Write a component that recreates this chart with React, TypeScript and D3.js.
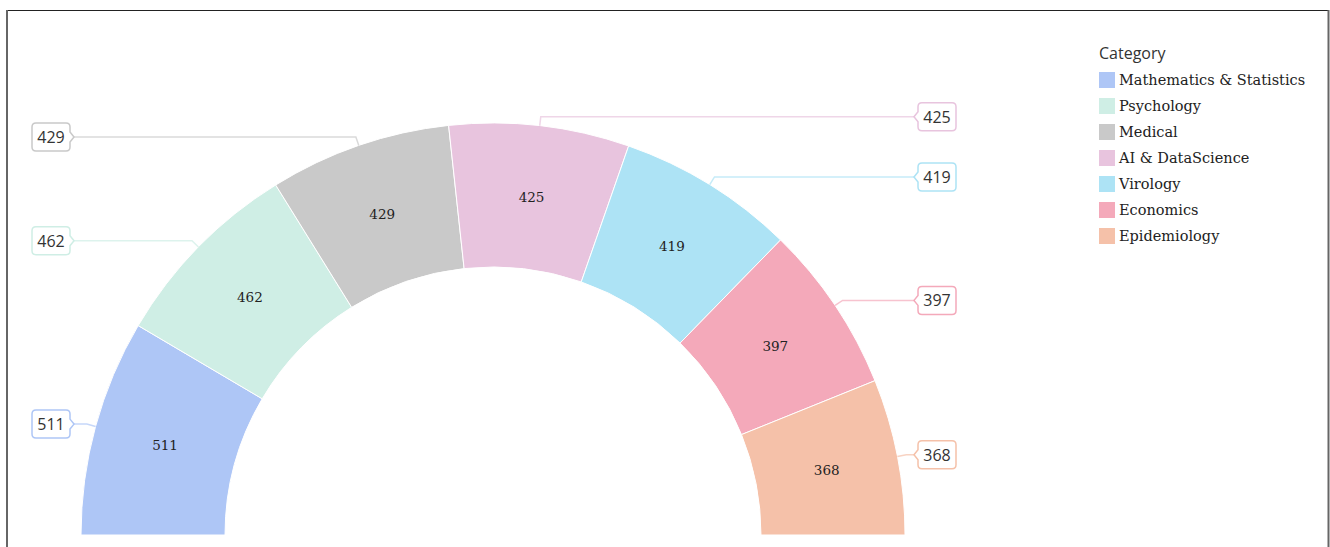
import { arc, pie } from 'd3'
import type { PieArcDatum } from 'd3'

const categories = [
  'Mathematics & Statistics',
  'Psychology',
  'Medical',
  'AI & DataScience',
  'Virology',
  'Economics',
  'Epidemiology',
]
const counts = [511, 462, 429, 425, 419, 397, 368]
const colors = ['#aec6f6', '#cfeee5', '#c9c9c9', '#e8c4de', '#ade3f5', '#f4a9ba', '#f5c1a9']

type Slice = { name: string; value: number; color: string }

const slices: Slice[] = categories.map((name, i) => ({ name, value: counts[i], color: colors[i] }))

// bubble box with a small point on the side the leader line comes in
function bubble(x0: number, x1: number, y: number, side: 'left' | 'right') {
  const h = 28
  const r = 4
  const t = y - h / 2
  const b = y + h / 2
  const n = 5
  if (side === 'right') {
    return `M${x0 + r},${t} H${x1 - r} Q${x1},${t} ${x1},${t + r} V${y - n} L${x1 + 4},${y} L${x1},${y + n} V${b - r} Q${x1},${b} ${x1 - r},${b} H${x0 + r} Q${x0},${b} ${x0},${b - r} V${t + r} Q${x0},${t} ${x0 + r},${t} Z`
  }
  return `M${x0 + r},${t} H${x1 - r} Q${x1},${t} ${x1},${t + r} V${b - r} Q${x1},${b} ${x1 - r},${b} H${x0 + r} Q${x0},${b} ${x0},${b - r} V${y + n} L${x0 - 4},${y} L${x0},${y - n} V${t + r} Q${x0},${t} ${x0 + r},${t} Z`
}

export default function App() {
  const width = 1330
  const height = 547
  const cx = 493
  const cy = 535
  const inner = 268
  const outer = 412

  const arcs = pie<Slice>()
    .sort(null)
    .value((d) => d.value)
    .startAngle(-Math.PI / 2)
    .endAngle(Math.PI / 2)(slices)

  const sliceArc = arc<PieArcDatum<Slice>>().innerRadius(inner).outerRadius(outer)
  const edgeArc = arc<PieArcDatum<Slice>>().innerRadius(outer).outerRadius(outer)
  const elbowArc = arc<PieArcDatum<Slice>>().innerRadius(outer + 9).outerRadius(outer + 9)

  const leftEdge = 70
  const rightEdge = 918
  const boxW = 38

  return (
    <div style={{ position: 'absolute', left: 0, top: 0, width, height }}>
      <svg width={width} height={height} style={{ display: 'block' }}>
        <rect width={width} height={height} fill="#ffffff" />
        <line x1="7" x2="1329" y1="10.5" y2="10.5" stroke="#222" strokeWidth="1" />
        <line x1="7" x2="7" y1="10" y2={height} stroke="#666" strokeWidth="2" />
        <line x1="1328.5" x2="1328.5" y1="10" y2={height} stroke="#666" strokeWidth="2" />

        <g transform={`translate(${cx},${cy})`}>
          {arcs.map((d) => (
            <path key={d.data.name} d={sliceArc(d) ?? ''} fill={d.data.color} stroke="#ffffff" strokeWidth="1" />
          ))}
          {arcs.map((d) => {
            const [x, y] = sliceArc.centroid(d)
            return (
              <text key={d.data.name} x={x} y={y} textAnchor="middle" dominantBaseline="central" fontFamily="'DejaVu Serif', serif" fontSize="13.5" fill="#222">
                {d.data.value}
              </text>
            )
          })}
        </g>

        {arcs.map((d) => {
          const [ex, ey] = edgeArc.centroid(d)
          const [bx, by] = elbowArc.centroid(d)
          const mid = (d.startAngle + d.endAngle) / 2
          const isLeft = mid < 0
          const x0 = cx + ex
          const y0 = cy + ey
          const x1 = cx + bx
          const y1 = cy + by
          const lx = isLeft ? leftEdge + 4 : rightEdge - 4
          return (
            <g key={d.data.name}>
              <polyline points={`${x0},${y0} ${x1},${y1} ${lx},${y1}`} fill="none" stroke={d.data.color} strokeWidth="1.5" strokeOpacity="0.7" />
              <path
                d={isLeft ? bubble(leftEdge - boxW, leftEdge, y1, 'right') : bubble(rightEdge, rightEdge + boxW, y1, 'left')}
                fill="#ffffff"
                stroke={d.data.color}
                strokeWidth="1.5"
              />
              <text
                x={isLeft ? leftEdge - boxW / 2 : rightEdge + boxW / 2}
                y={y1}
                textAnchor="middle"
                dominantBaseline="central"
                fontFamily="'Open Sans', sans-serif"
                fontSize="16"
                fill="#333"
              >
                {d.data.value}
              </text>
            </g>
          )
        })}

        <g transform="translate(1099,53)">
          <text x="0" y="0" dominantBaseline="central" fontFamily="'Open Sans', sans-serif" fontSize="16" fill="#333">
            Category
          </text>
          {slices.map((s, i) => (
            <g key={s.name} transform={`translate(0,${26 * (i + 1) + 1})`}>
              <rect x="0" y="-8" width="16" height="16" fill={s.color} />
              <text x="20" y="0" dominantBaseline="central" fontFamily="'DejaVu Serif', serif" fontSize="14.5" fill="#222">
                {s.name}
              </text>
            </g>
          ))}
        </g>
      </svg>
    </div>
  )
}
